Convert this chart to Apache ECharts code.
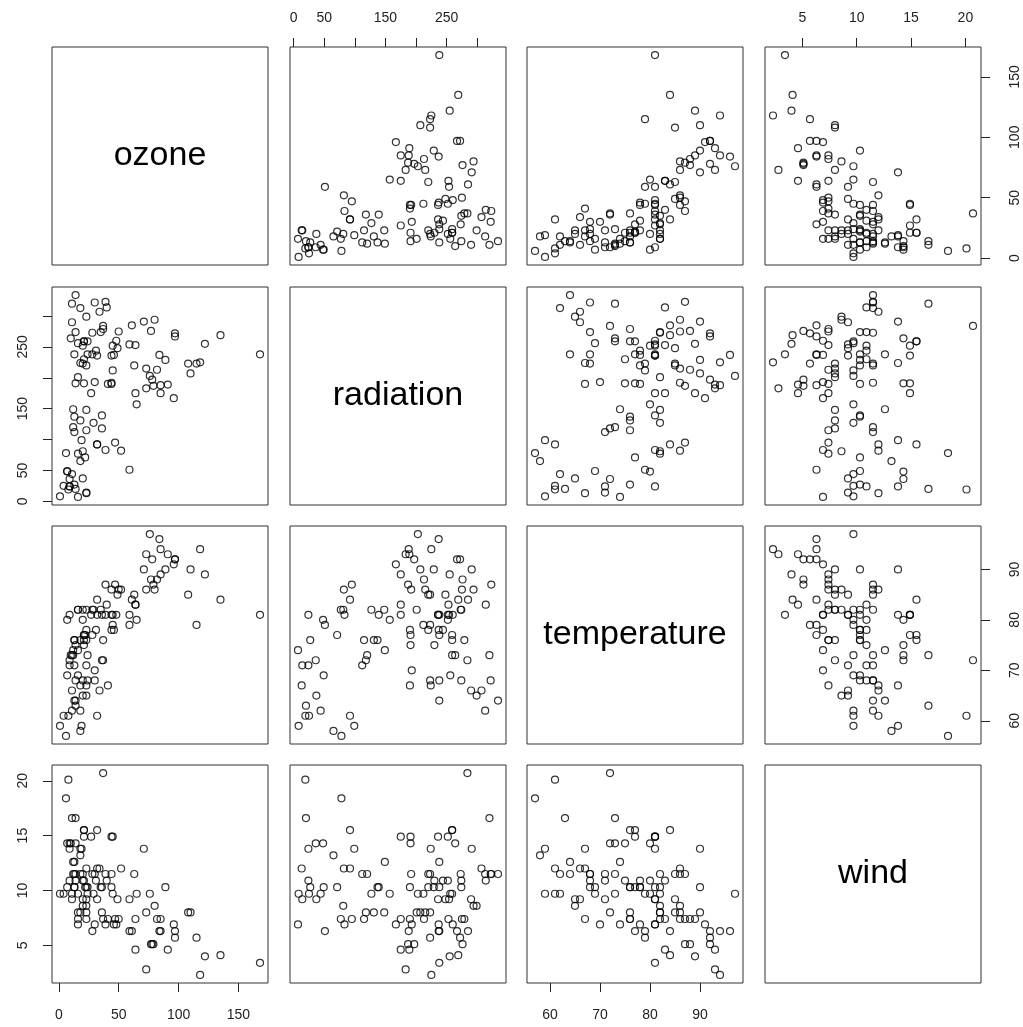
<!DOCTYPE html>
<html>
<head>
<meta charset="utf-8">
<script src="https://cdn.jsdelivr.net/npm/echarts@6/dist/echarts.min.js"></script>
<style>html,body{margin:0;padding:0;background:#fff;}#chart{width:1023px;height:1027px;}</style>
</head>
<body>
<div id="chart"></div>
<script>
// environmental data (111 complete observations)
const ozone = [41,36,12,18,23,19,8,16,11,14,18,14,34,6,30,11,1,11,4,32,23,45,115,37,29,71,39,23,21,37,20,12,13,135,49,32,64,40,77,97,97,85,10,27,7,48,35,61,79,63,16,80,108,20,52,82,50,64,59,39,9,16,122,89,110,44,28,65,22,59,23,31,44,21,9,45,168,73,76,118,84,85,96,78,73,91,47,32,20,23,21,24,44,21,28,9,13,46,18,13,24,16,13,23,36,7,14,30,14,18,20];
const radiation = [190,118,149,313,299,99,19,256,290,274,65,334,307,78,322,44,8,320,25,92,13,252,223,279,127,291,323,148,191,284,37,120,137,269,248,236,175,314,276,267,272,175,264,175,48,260,274,285,187,220,7,294,223,81,82,213,275,253,254,83,24,77,255,229,207,192,273,157,71,51,115,244,190,259,36,212,238,215,203,225,237,188,167,197,183,189,95,92,252,220,230,259,236,259,238,24,112,237,224,27,238,201,238,14,139,49,20,193,191,131,223];
const temperature = [67,72,74,62,65,59,61,69,66,68,58,64,66,57,68,62,59,73,61,61,67,81,79,76,82,90,87,82,77,72,65,73,76,84,85,81,83,83,88,92,92,89,73,81,80,81,82,84,87,85,74,86,85,82,86,88,86,83,81,81,81,82,89,90,90,86,82,80,77,79,76,78,78,77,72,79,81,86,97,94,96,94,91,92,93,93,87,84,80,78,75,73,81,76,77,71,71,78,67,76,68,82,64,71,81,69,63,70,75,76,68];
const wind = [7.4,8.0,12.6,11.5,8.6,13.8,20.1,9.7,9.2,10.9,13.2,11.5,12.0,18.4,11.5,9.7,9.7,16.6,9.7,12.0,12.0,14.9,5.7,7.4,9.7,13.8,11.5,8.0,14.9,20.7,9.2,11.5,10.3,4.1,9.2,9.2,4.6,10.9,5.1,6.3,5.7,7.4,14.3,14.9,14.3,6.9,10.3,6.3,5.1,11.5,6.9,8.6,8.0,8.6,12.0,7.4,7.4,7.4,9.2,6.9,13.8,7.4,4.0,10.3,8.0,11.5,11.5,9.7,10.3,6.3,7.4,10.9,10.3,15.5,14.3,9.7,3.4,8.0,9.7,2.3,6.3,6.3,6.9,5.1,2.8,4.6,7.4,15.5,10.9,10.3,10.9,9.7,14.9,15.5,6.3,10.9,11.5,6.9,13.8,10.3,10.3,8.0,12.6,9.2,10.3,10.3,16.6,6.9,14.3,8.0,11.5];

const varNames = ['ozone', 'radiation', 'temperature', 'wind'];
const ozoneTicks = [0, 50, 100, 150];
const ozoneLabels = [0, 50, 100, 150];
const radiationTicks = [0, 50, 100, 150, 200, 250, 300];
const radiationLabels = [0, 50, 150, 250];
const temperatureTicks = [60, 70, 80, 90];
const temperatureLabels = [60, 70, 80, 90];
const windTicks = [5, 10, 15, 20];
const windLabels = [5, 10, 15, 20];

const vars = [ozone, radiation, temperature, wind];
const ticks = [ozoneTicks, radiationTicks, temperatureTicks, windTicks];
const labels = [ozoneLabels, radiationLabels, temperatureLabels, windLabels];

// R-style 4% range extension
function rng(a) {
  const lo = Math.min(...a), hi = Math.max(...a), d = (hi - lo) * 0.04;
  return [lo - d, hi + d];
}
const ranges = vars.map(rng);

const colLeft = [52, 290, 527, 765];
const rowTop = [47, 287, 526, 765];
const panelW = 216, panelH = 218;
const FONT = "'Liberation Sans', Arial, Helvetica, sans-serif";
const marginFor = { top: 22, bottom: 25, left: 22, right: 27 };

const grids = [], xAxes = [], yAxes = [], series = [], graphics = [];

function axisCfg(v, show, position, isY) {
  const base = {
    type: 'value', min: ranges[v][0], max: ranges[v][1],
    splitLine: { show: false }, scale: true,
    axisLine: { show: false, onZero: false }
  };
  if (!show) { base.show = false; return base; }
  return Object.assign(base, {
    position: position,
    axisTick: { show: true, inside: false, length: 9, customValues: ticks[v], lineStyle: { color: '#222', width: 1 } },
    axisLabel: {
      show: true, customValues: labels[v], margin: marginFor[position],
      color: '#222', fontSize: 14, fontFamily: FONT,
      rotate: isY ? 90 : 0
    }
  });
}

for (let i = 0; i < 4; i++) {
  for (let j = 0; j < 4; j++) {
    const k = i * 4 + j;
    grids.push({
      left: colLeft[j], top: rowTop[i], width: panelW, height: panelH,
      show: true, borderColor: '#333', borderWidth: 1, backgroundColor: 'transparent',
      containLabel: false, outerBoundsMode: 'none'
    });
    let xShow = false, xPos = 'bottom';
    if (i === 0 && (j === 1 || j === 3)) { xShow = true; xPos = 'top'; }
    if (i === 3 && (j === 0 || j === 2)) { xShow = true; xPos = 'bottom'; }
    let yShow = false, yPos = 'left';
    if (j === 0 && (i === 1 || i === 3)) { yShow = true; yPos = 'left'; }
    if (j === 3 && (i === 0 || i === 2)) { yShow = true; yPos = 'right'; }
    const xa = axisCfg(j, xShow, xPos, false); xa.gridIndex = k;
    const ya = axisCfg(i, yShow, yPos, true); ya.gridIndex = k;
    xAxes.push(xa); yAxes.push(ya);
    if (i === j) {
      graphics.push({
        type: 'text', x: colLeft[j] + panelW / 2, y: rowTop[i] + panelH / 2,
        style: { text: varNames[i], fontSize: 34, fontFamily: FONT, fill: '#000', align: 'center', verticalAlign: 'middle' }
      });
    } else {
      const xs = vars[j], ys = vars[i];
      series.push({
        type: 'scatter', xAxisIndex: k, yAxisIndex: k,
        data: xs.map((x, n) => [x, ys[n]]),
        symbol: 'circle', symbolSize: 7,
        itemStyle: { color: 'rgba(0,0,0,0)', borderColor: '#000', borderWidth: 1.2 },
        silent: true
      });
    }
  }
}

const chart = echarts.init(document.getElementById('chart'), null, { renderer: 'canvas' });
chart.setOption({
  backgroundColor: '#fff',
  animation: false,
  grid: grids, xAxis: xAxes, yAxis: yAxes, series: series,
  graphic: graphics
});
</script>
</body>
</html>
